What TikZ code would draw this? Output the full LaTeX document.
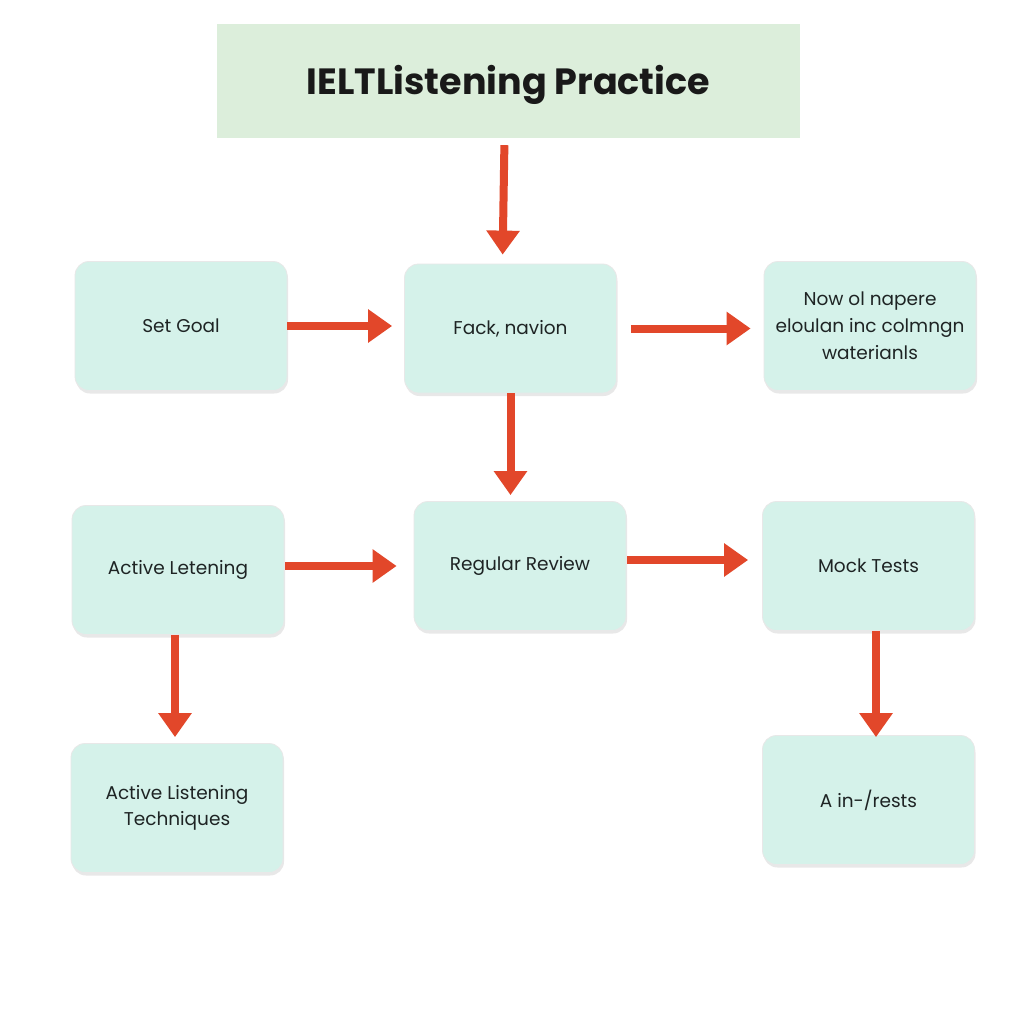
\documentclass[tikz,border=0pt]{standalone}
\usepackage{fontspec}
\setmainfont{Poppins}
\usetikzlibrary{arrows.meta,calc,shadows}
\definecolor{boxfill}{HTML}{D5F2EA}
\definecolor{titlefill}{HTML}{DCEEDB}
\definecolor{arrowred}{HTML}{E2472A}
\definecolor{textdark}{HTML}{1E2424}
\tikzset{
  stepbox/.style={draw=gray!18, line width=0.8pt, fill=boxfill, rounded corners=14pt,
    minimum width=212pt, minimum height=129pt, align=center, text=textdark,
    font=\fontsize{18.5}{27}\selectfont,
    drop shadow={shadow xshift=1pt, shadow yshift=-3pt, opacity=0.18, fill=gray}},
  titlebox/.style={fill=titlefill, minimum width=583pt, minimum height=114pt,
    text height=36pt, text depth=9pt,
    font=\fontsize{36.5}{42}\selectfont\bfseries, text=black!90},
  flow/.style={draw=arrowred, line width=8pt,
    -{Triangle[length=24pt,width=32pt]}}
}
\begin{document}
\begin{tikzpicture}[x=1pt,y=-1pt]
\useasboundingbox (0,0) rectangle (1024,1024);
\fill[white] (0,0) rectangle (1024,1024);
\node[titlebox] (title) at (508.5,81) {IELTListening Practice};
\node[stepbox] (goal) at (181,326) {Set Goal};
\node[stepbox] (fack) at (510.5,328.5) {Fack, navion};
\node[stepbox] (now) at (870,326) {\raisebox{3pt}{\parbox{200pt}{\centering Now ol napere\\eloulan inc colmngn\\waterianls}}};
\node[stepbox] (active) at (178,570) {Active Letening};
\node[stepbox] (review) at (520,566) {Regular Review};
\node[stepbox] (mock) at (868.5,566) {Mock Tests};
\node[stepbox] (tech) at (177,808) {\parbox{200pt}{\centering\baselineskip=26pt Active Listening\\Techniques}};
\node[stepbox] (interests) at (868.5,800) {A in-/rests};
\draw[flow, shorten <=7pt, shorten >=9pt] ([xshift=-4pt]title.south) -- ([xshift=-6pt]title.south |- fack.north);
\draw[flow, shorten >=12pt] (goal.east) -- (goal.east -| fack.west);
\draw[flow, shorten <=14pt, shorten >=13pt] (fack.east) -- (fack.east -| now.west);
\draw[flow, shorten >=6pt] (fack.south) -- (fack.south |- review.north);
\draw[flow, shorten <=1pt, shorten >=17pt] ([yshift=4pt]active.east) -- ([yshift=4pt]active.east -| review.west);
\draw[flow, shorten <=1pt, shorten >=14pt] ([yshift=6pt]review.east) -- ([yshift=6pt]review.east -| mock.west);
\draw[flow, shorten >=6pt] ([xshift=-3pt]active.south) -- ([xshift=-3pt]active.south |- tech.north);
\draw[flow, shorten >=-2pt] ([xshift=7.5pt]mock.south) -- ([xshift=7.5pt]mock.south |- interests.north);
\end{tikzpicture}
\end{document}
